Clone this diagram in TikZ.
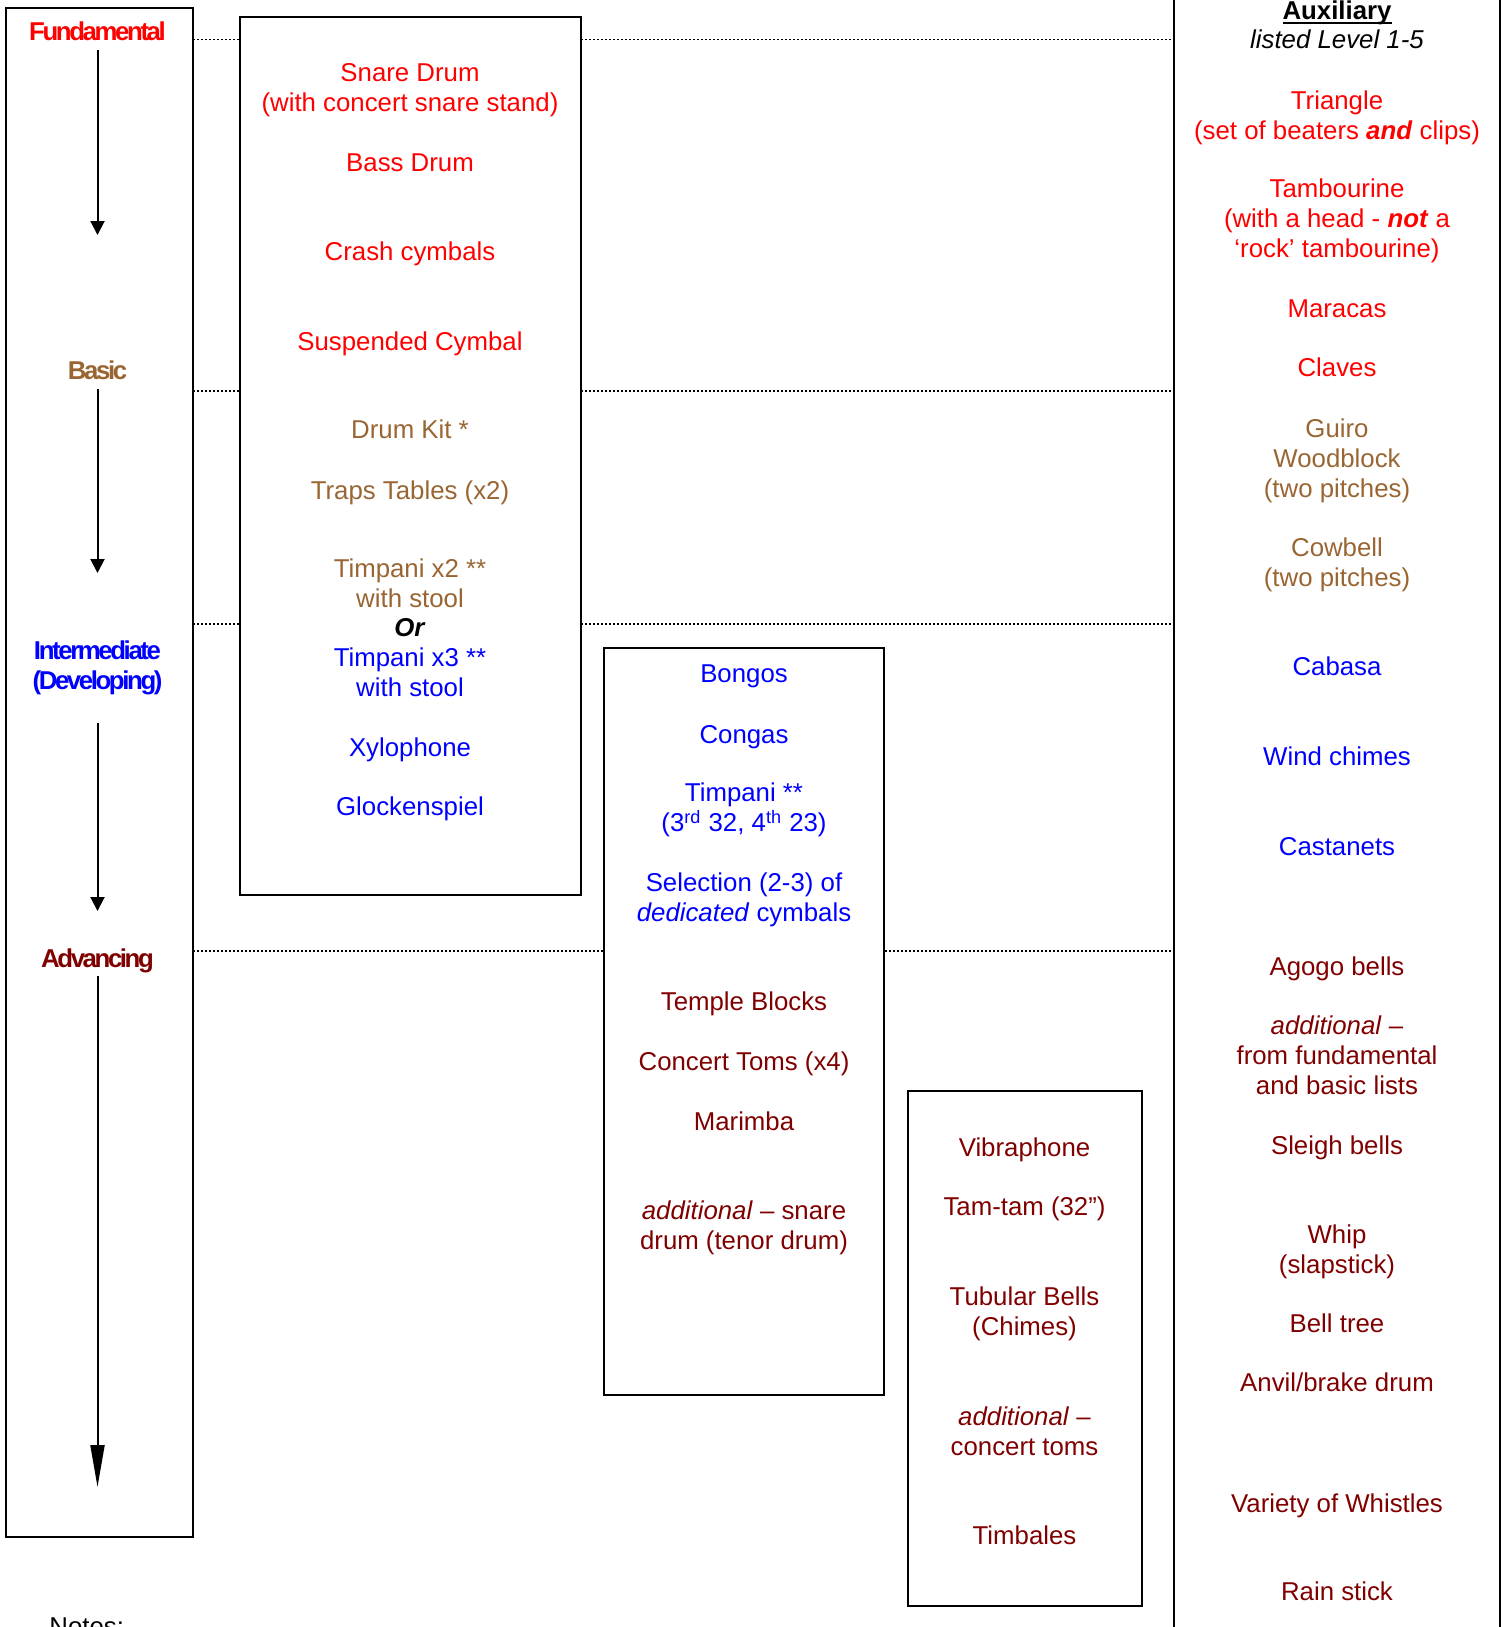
\documentclass[tikz,border=0pt]{standalone}
\usepackage{fontspec}
\setmainfont{Liberation Sans}
\newfontfamily\lvlfont{Liberation Sans}[LetterSpace=-9.3]
\usetikzlibrary{arrows.meta}
\definecolor{fundred}{RGB}{255,0,0}
\definecolor{basicbrown}{RGB}{153,102,51}
\definecolor{interblue}{RGB}{0,0,255}
\definecolor{advred}{RGB}{128,0,0}
\newcommand{\wordul}[1]{\setbox0\hbox{#1}\rlap{\rule[-2.2pt]{\wd0}{0.9pt}}\box0}

\begin{document}
\begin{tikzpicture}[x=0.5pt,y=-0.5pt,
  instr/.style={font=\fontsize{12.9}{15}\selectfont, align=center, inner sep=0pt,
    execute at begin node=\strut, execute at end node=\strut},
  lvl/.style={instr, font=\fontsize{12.9}{15}\selectfont\lvlfont\bfseries},
  listbox/.style={draw, line width=1pt, fill=white},
  levelline/.style={line width=0.8pt, dash pattern=on 1pt off 1pt},
  lvlarrow/.style={line width=1pt, -{Triangle[length=7pt,width=7pt]}},
  lastarrow/.style={line width=1pt, -{Triangle[length=21pt,width=7pt]}}]
\clip (0,0) rectangle (1504,1627);
%level lines
\draw[levelline] (193,39.5) -- (1174,39.5);
\draw[levelline] (193,391) -- (1174,391);
\draw[levelline] (193,624) -- (1174,624);
\draw[levelline] (193,951) -- (1174,951);
%boxes
\draw[listbox] (6,8) rectangle (193,1537);
\draw[listbox] (240,17) rectangle (581,895);
\draw[listbox] (604,648) rectangle (884,1395);
\draw[listbox] (908,1091) rectangle (1142,1606);
\draw[line width=1pt] (1174,-5) rectangle (1500,1650);
%levels
\node[lvl, fundred] (fund) at (97.5,35) {Fundamental};
\node[lvl, basicbrown] (basic) at (97.5,373.5) {Basic};
\node[lvl, interblue] (inter) at (97.5,670) {Intermediate\\(Developing)};
\node[lvl, advred] (adv) at (97.5,961) {Advancing};
\coordinate (fundend) at (97.5,235);
\coordinate (basicend) at (97.5,573);
\coordinate (interend) at (97.5,911);
\coordinate (advend) at (97.5,1487);
\draw[lvlarrow] (fund.south) -- (fundend);
\draw[lvlarrow] (basic.south) -- (basicend);
\draw[lvlarrow] ([yshift=-12pt]inter.south) -- (interend);
\draw[lastarrow] (adv.south) -- (advend);
%first box
\node[instr, fundred] (snare) at (410,91.7) {Snare Drum\\(with concert snare stand)};
\node[instr, fundred] (bass) at (410,165) {Bass Drum};
\node[instr, fundred] (crash) at (410,254) {Crash cymbals};
\node[instr, fundred] (susp) at (410,344.5) {Suspended Cymbal};
\node[instr, basicbrown] (kit) at (410,432.7) {Drum Kit *};
\node[instr, basicbrown] (traps) at (410,493) {Traps Tables (x2)};
\node[instr, basicbrown] (timptwo) at (410,588) {Timpani x2 **\\with stool};
\node[instr] (orword) at (410,630) {\textbf{\textit{Or}}};
\node[instr, interblue] (timpthree) at (410,677) {Timpani x3 **\\with stool};
\node[instr, interblue] (xylo) at (410,750) {Xylophone};
\node[instr, interblue] (glock) at (410,809.5) {Glockenspiel};
%second box
\node[instr, interblue] (bongos) at (744,676.7) {Bongos};
\node[instr, interblue] (congas) at (744,737) {Congas};
\node[instr, interblue] (timpmore) at (744,812) {Timpani **\\(3\textsuperscript{rd} 32, 4\textsuperscript{th} 23)};
\node[instr, interblue] (cymsel) at (744,902) {Selection (2-3) of\\\textit{dedicated} cymbals};
\node[instr, advred] (temple) at (744,1004.7) {Temple Blocks};
\node[instr, advred] (toms) at (744,1064) {Concert Toms (x4)};
\node[instr, advred] (marimba) at (744,1124) {Marimba};
\node[instr, advred] (addsnare) at (744,1230) {\textit{additional} – snare\\drum (tenor drum)};
%third box
\node[instr, advred] (vibra) at (1024.5,1150) {Vibraphone};
\node[instr, advred] (tamtam) at (1024.5,1209) {Tam-tam (32”)};
\node[instr, advred] (tubular) at (1024.5,1316) {Tubular Bells\\(Chimes)};
\node[instr, advred] (addtoms) at (1024.5,1436) {\textit{additional} –\\concert toms};
\node[instr, advred] (timbales) at (1024.5,1538) {Timbales};
%auxiliary
\node[instr] (auxtitle) at (1337,13.4) {\wordul{\textbf{Auxiliary}}};
\node[instr] (listed) at (1337,42.4) {\textit{listed Level 1-5}};
\node[instr, fundred] (triangle) at (1337,119.7) {Triangle\\(set of beaters \textbf{\textit{and}} clips)};
\node[instr, fundred] (tamb) at (1337,223) {Tambourine\\(with a head - \textbf{\textit{not}} a\\‘rock’ tambourine)};
\node[instr, fundred] (maracas) at (1337,311) {Maracas};
\node[instr, fundred] (claves) at (1337,370) {Claves};
\node[instr, basicbrown] (guiro) at (1337,462.7) {Guiro\\Woodblock\\(two pitches)};
\node[instr, basicbrown] (cowbell) at (1337,567) {Cowbell\\(two pitches)};
\node[instr, interblue] (cabasa) at (1337,669) {Cabasa};
\node[instr, interblue] (windch) at (1337,759.7) {Wind chimes};
\node[instr, interblue] (castanets) at (1337,849) {Castanets};
\node[instr, advred] (agogo) at (1337,969) {Agogo bells};
\node[instr, advred] (addaux) at (1337,1059.6) {\textit{additional} –\\from fundamental\\and basic lists};
\node[instr, advred] (sleigh) at (1337,1148) {Sleigh bells};
\node[instr, advred] (whip) at (1337,1254) {Whip\\(slapstick)};
\node[instr, advred] (belltree) at (1337,1326) {Bell tree};
\node[instr, advred] (anvil) at (1337,1385.6) {Anvil/brake drum};
\node[instr, advred] (whistles) at (1337,1506) {Variety of Whistles};
\node[instr, advred] (rain) at (1337,1594) {Rain stick};
%notes
\node[instr, anchor=north west] (notes) at (49,1614) {Notes:};
\end{tikzpicture}
\end{document}
